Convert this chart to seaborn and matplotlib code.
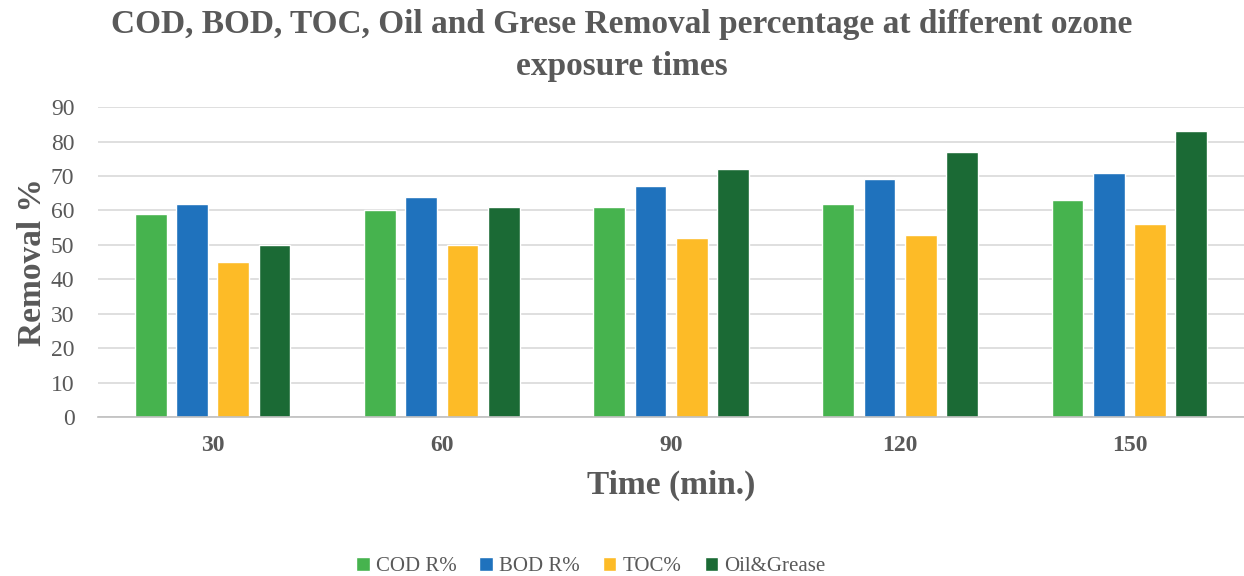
import matplotlib
matplotlib.use("Agg")
import matplotlib.pyplot as plt
import seaborn as sns
import pandas as pd

times = ["30", "60", "90", "120", "150"]
series = ["COD R%", "BOD R%", "TOC%", "Oil&Grease"]
cod = [59, 60, 61, 62, 63]
bod = [62, 64, 67, 69, 71]
toc = [45, 50, 52, 53, 56]
oil_grease = [50, 61, 72, 77, 83]
yticks = [0, 10, 20, 30, 40, 50, 60, 70, 80, 90]

colors = ["#46B34E", "#1F72BD", "#FDBB27", "#1B6A35"]
text_gray = "#595959"

df = pd.DataFrame({
    "Time": times * 4,
    "Series": [s for s in series for _ in times],
    "Value": cod + bod + toc + oil_grease,
})

sns.set_theme(style="white")
plt.rcParams["font.family"] = ["Liberation Serif", "DejaVu Serif"]

fig = plt.figure(figsize=(12.44, 5.76), dpi=100)
ax = fig.add_axes([0.0788, 0.276, 0.9212, 0.538])

sns.barplot(data=df, x="Time", y="Value", hue="Series", order=times,
            hue_order=series, palette=colors, width=0.72, gap=0.23,
            saturation=1, ax=ax, legend=True)

ax.set_ylim(0, 90)
ax.set_xlim(-0.5, len(times) - 0.5)
ax.set_yticks(yticks)
ax.set_yticklabels([str(v) for v in yticks], fontsize=17, color=text_gray)
ax.yaxis.grid(True, color="#D9D9D9", linewidth=1.2)
ax.set_axisbelow(True)

ax.set_xticks(range(len(times)))
ax.set_xticklabels(times, fontsize=17, fontweight="bold", color=text_gray)
ax.tick_params(axis="x", which="major", length=0, pad=13)
ax.tick_params(axis="y", length=0, pad=17)
ax.set_xticks([i - 0.5 for i in range(len(times) + 1)], minor=True)
ax.tick_params(axis="x", which="minor", length=6, color="#BFBFBF", width=1)

for side in ["top", "right", "left"]:
    ax.spines[side].set_visible(False)
ax.spines["bottom"].set_color("#BFBFBF")
ax.spines["bottom"].set_linewidth(1.2)

ax.set_xlabel("Time (min.)", fontsize=24, fontweight="bold", color=text_gray, labelpad=10)
ax.set_ylabel("Removal %", fontsize=24, fontweight="bold", color=text_gray, labelpad=2)

fig.suptitle("COD, BOD, TOC, Oil and Grese Removal percentage at different ozone\nexposure times",
             fontsize=24, fontweight="bold", color=text_gray, y=0.984, linespacing=1.45)

handles, labels = ax.get_legend_handles_labels()
ax.legend(handles, labels, loc="center", bbox_to_anchor=(0.43, -0.482),
          ncol=4, frameon=False, fontsize=15, handlelength=0.65, handleheight=0.65,
          handletextpad=0.3, columnspacing=1.1, labelcolor=text_gray)

fig.savefig("out.png", dpi=100)
